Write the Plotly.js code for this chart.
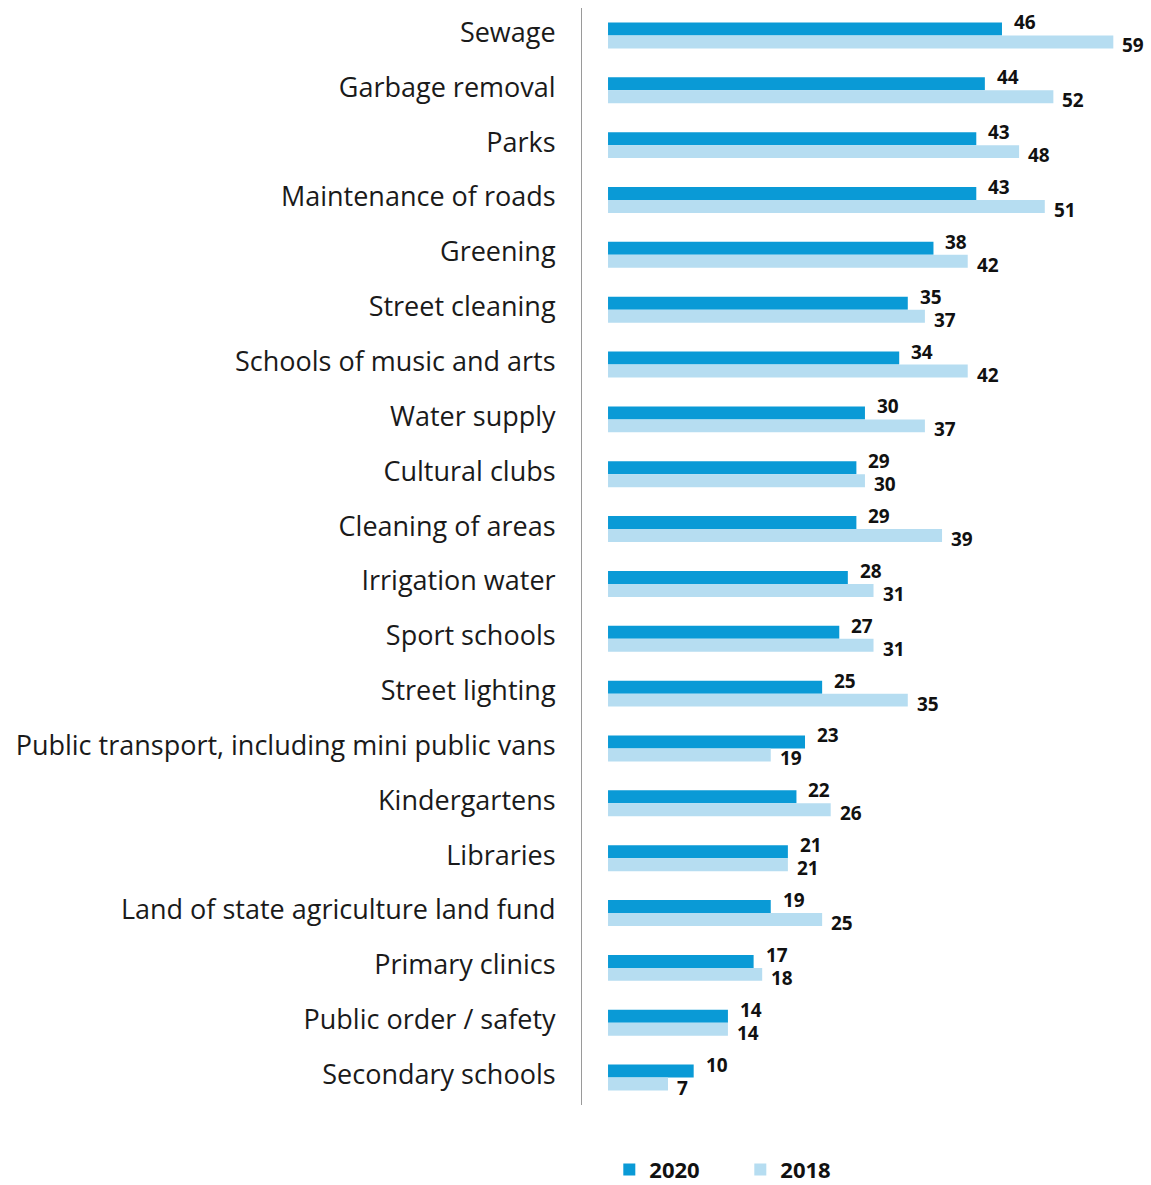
<!DOCTYPE html>
<html>
<head>
<meta charset="utf-8">
<script src="https://cdn.plot.ly/plotly-3.0.1.min.js"></script>
<style>html,body{margin:0;padding:0;background:#fff;}#chart{width:1151px;height:1185px;}</style>
</head>
<body>
<div id="chart"></div>
<script>
const categories = ["Sewage","Garbage removal","Parks","Maintenance of roads","Greening","Street cleaning","Schools of music and arts","Water supply","Cultural clubs","Cleaning of areas","Irrigation water","Sport schools","Street lighting","Public transport, including mini public vans","Kindergartens","Libraries","Land of state agriculture land fund","Primary clinics","Public order / safety","Secondary schools"];
const values2020 = [46,44,43,43,38,35,34,30,29,29,28,27,25,23,22,21,19,17,14,10];
const values2018 = [59,52,48,51,42,37,42,37,30,39,31,31,35,19,26,21,25,18,14,7];
const seriesNames = ["2020","2018"];

const colDark = "#0a9ad6";
const colLight = "#b6ddf1";
const labelFont = {family: "Open Sans, sans-serif", size: 19, color: "#111"};

const traces = [
  {type:"bar", orientation:"h", name:seriesNames[0], y:categories, x:values2020, marker:{color:colDark}, hoverinfo:"x+y"},
  {type:"bar", orientation:"h", name:seriesNames[1], y:categories, x:values2018, marker:{color:colLight}, hoverinfo:"x+y"}
];

const annotations = [];
categories.forEach((c,i)=>{
  annotations.push({xref:"x", yref:"y", x:values2020[i], y:c, text:"<b>"+values2020[i]+"</b>", showarrow:false, xanchor:"left", yanchor:"middle", xshift:11, yshift:13, font:labelFont, borderpad:0});
  annotations.push({xref:"x", yref:"y", x:values2018[i], y:c, text:"<b>"+values2018[i]+"</b>", showarrow:false, xanchor:"left", yanchor:"middle", xshift:8, yshift:-10, font:labelFont, borderpad:0});
});

const layout = {
  width:1151, height:1185,
  margin:{l:582, r:0, t:8, b:80, autoexpand:false},
  paper_bgcolor:"#fff", plot_bgcolor:"#fff",
  barmode:"group", bargap:0.526, bargroupgap:0,
  font:{family:"Open Sans, sans-serif", color:"#1a1a1a"},
  xaxis:{range:[-3.04, 63.4], visible:false, fixedrange:true},
  yaxis:{autorange:"reversed", showline:true, linecolor:"#9a9a9a", linewidth:1, showgrid:false, zeroline:false, ticks:"", ticklabelstandoff:20, ticklabelshift:3, tickfont:{family:"Open Sans, sans-serif", size:27, color:"#1a1a1a"}},
  showlegend:true,
  legend:{orientation:"h", x:0.048, xanchor:"left", y:-0.059, yanchor:"middle", font:{family:"Open Sans, sans-serif", size:22, color:"#111", weight:"bold"}, itemwidth:30, entrywidth:86, traceorder:"normal"},
  annotations:annotations
};

Plotly.newPlot("chart", traces, layout, {displayModeBar:false, staticPlot:true});
</script>
</body>
</html>
